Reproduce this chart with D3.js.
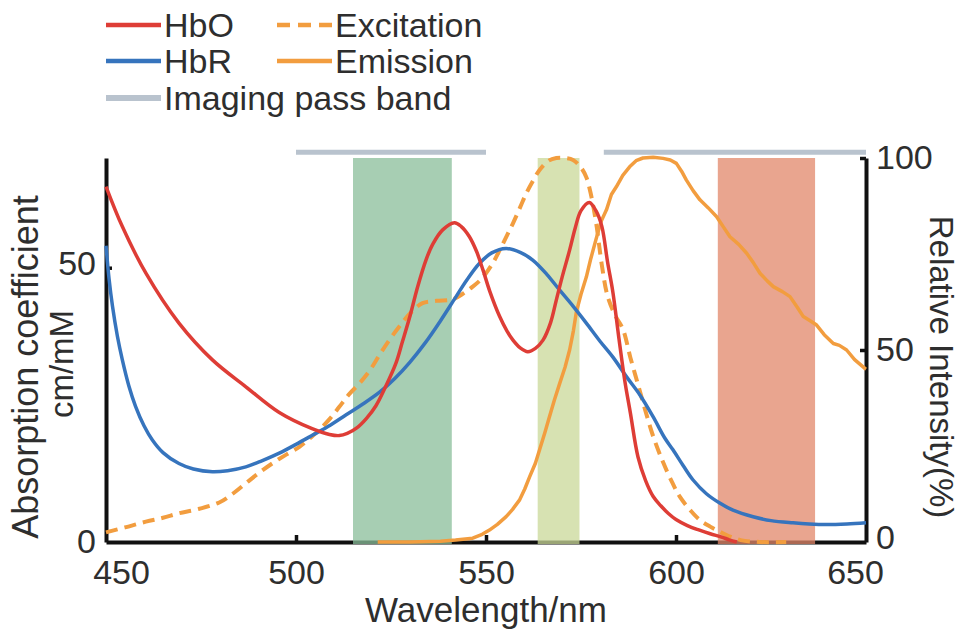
<!DOCTYPE html>
<html><head><meta charset="utf-8">
<script src="https://cdn.jsdelivr.net/npm/d3@7"></script>
<style>
html,body{margin:0;padding:0;background:#fff;}
text{font-family:"Liberation Sans",Arial,Helvetica,sans-serif;fill:#2e2e2e;}
</style></head>
<body>
<svg id="c" width="967" height="637"></svg>
<script>
// ---- data ----
const hboWl  = [450,454.3,460.5,469.2,478,486.8,495.6,504.4,508.8,511.4,513.5,516,518.5,521,523.5,526.3,528,530,532,534.2,536,538.6,541.7,543.5,545.6,547.5,549.2,551,553.6,555.5,557.1,559,561,563,565,567,568.5,570,572,573.5,575,577.2,579,580.5,582,583.4,585,586.5,588,590,592,594,596,598,600,603,606,609,612,614,616];
const hboVal = [64.8,57.5,49,39.9,33.2,28.3,23.6,20.6,19.6,19.4,19.8,20.8,22.5,24.8,28.2,32.6,36.5,41.2,46.5,51.4,54.3,56.9,58.2,57.5,55.7,53,49.6,45.7,41.1,38.5,36.8,35.4,34.7,35.3,36.8,40,44.1,48.2,53.2,57.3,60.4,61.9,60.3,57.5,51,45.5,37,29.5,23.5,15.5,11.2,8.3,6.6,5.2,4.1,3,2.2,1.5,0.9,0.4,0];

const hbrWl  = [450,450.8,451.7,453,454.3,456,457.8,460,462.2,465,469.2,473,478,482,486.8,491,495.6,500,504.4,509,513.2,517.5,522,526,530,534,538,542,545,548.3,551.5,555.3,559,562.3,566,569.4,573,576.4,580,583.4,587,590.5,594,597,599.2,602,604.5,608,611.5,615,620.3,625,630.8,635,639.6,645,650];
const hbrVal = [54,48,43,37.5,33.2,28.5,24.7,21.2,18.6,16.3,14.3,13.3,12.8,13,13.7,14.8,16.2,17.8,19.5,21.3,23.2,25.1,27.3,29.8,32.8,36.3,40.3,44.6,47.8,50.8,52.7,53.5,52.8,51.4,48.8,45.9,42.9,39.9,36.6,33.7,30.1,26.8,22.8,19,16.8,13.8,11.3,8.8,7.1,5.8,4.6,3.9,3.5,3.3,3.2,3.3,3.5];

const excWl  = [450,455,460.5,465,469.2,474,479.8,483,486.8,490,493.8,497,500.9,504,506.1,509,511.4,514,516.7,519.5,521.9,524.5,527.2,530,533.3,537,541.2,544,546.5,548.5,550,552,553.6,555.5,557.1,559,560.6,562.5,564.1,566.5,568.5,571,572.9,575,576.4,577.5,579,580.5,582,584,586,588,590,592,594,596.5,599,601,604,606.3,609,611.5,614,617,622,629];
const excVal = [2.5,3.8,5.3,6.3,7.5,8.5,10.3,12.3,15.3,17.8,20.5,22.5,24.8,27.3,29.2,32.2,35.2,38.5,41.3,44.8,48.6,52.5,56.1,59.5,62.2,62.8,63.2,64.7,66.5,68.2,70,73,76,79.8,83,87.2,90.8,94.3,96.9,99.3,100,100,99.5,97.5,95,91,83,72,64,59,55.5,48,41,34,27.5,21,15.5,11.8,8,5.7,4,2.7,1.5,0.5,0,0];

const emWl  = [521.5,530,538,542,546.5,549,550.9,553,555.3,557,558.8,560.2,561.5,563,564.1,565.5,566.7,568,569.4,570.8,572,573,573.8,575,576.4,577.5,579,580.3,581.7,583,584.3,586,587.8,589.5,591.3,594,596.6,598.5,600.1,601.5,602.7,604.5,606.3,608.5,610.7,612.5,614.2,616.5,618.6,620.5,622.1,624,625.6,628,630,632,633.5,635.5,637,639,641.4,643,644.9,647,649.7,650];
const emVal = [0,0,0.2,0.5,1,2,3.1,4.6,6.6,8.5,10.9,13.8,17,20.5,24,28.5,32.6,37,41.3,45.5,50,55,60,64.5,69,73.5,79,83.5,86.5,90.5,92.5,95.5,97.7,99.3,100,100.2,99.9,99.5,98.6,96.5,94.3,91.5,89.1,87,84.7,82,79.5,77.5,75.2,72.5,70,68,66.5,65.2,63.9,61,58.7,57.5,56.5,54,51.7,51.2,50,47.5,45.2,45];

const filterStart = [515, 563.6, 611];
const filterEnd   = [541, 574.6, 636.6];
const filterColors = ["#8abe9a", "#cad898", "#e2876a"];
const passStart = [500, 581];
const passEnd   = [550, 650];

const xTicks = [450, 500, 550, 600, 650];
const yLeftTicks = [0, 50];
const yRightTicks = [0, 50, 100];

// ---- chart ----
const svg = d3.select("#c");
const FS = 34;
const x  = d3.scaleLinear().domain([450, 650]).range([106, 866]);
const yL = d3.scaleLinear().domain([0, 70]).range([542, 158]);
const yR = d3.scaleLinear().domain([0, 100]).range([542, 158]);

const C = {red:"#de3d36", blue:"#3674bd", orange:"#f29d3f", gray:"#b9c3ce"};

function styleAxis(g){
  g.select(".domain").attr("stroke","#111").attr("stroke-width",4);
  g.selectAll(".tick line").attr("stroke","#111").attr("stroke-width",3.5);
  g.selectAll(".tick text").attr("font-size",FS).attr("fill","#2e2e2e")
    .style("font-family",'"Liberation Sans",Arial,sans-serif');
}

const gx = svg.append("g").attr("transform","translate(0,542)")
  .call(d3.axisBottom(x).tickValues(xTicks).tickSizeInner(-7).tickSizeOuter(0).tickPadding(18).tickFormat(d3.format("d")));
styleAxis(gx);
gx.selectAll(".tick").filter(d => d===450 || d===650).select("line").remove();
gx.selectAll(".tick text").attr("dx", d => d===450 ? 15 : d===650 ? -11 : 0);

const gl = svg.append("g").attr("transform","translate(106,0)")
  .call(d3.axisLeft(yL).tickValues(yLeftTicks).tickSizeInner(-6).tickSizeOuter(0).tickPadding(10));
styleAxis(gl);
gl.selectAll(".tick").filter(d => d===0).select("line").remove();
gl.selectAll(".tick text").attr("dy", d => d===50 ? "0.2em" : "0.3em");

const gr = svg.append("g").attr("transform","translate(866,0)")
  .call(d3.axisRight(yR).tickValues(yRightTicks).tickSizeInner(-6).tickSizeOuter(0).tickPadding(10));
styleAxis(gr);
gr.selectAll(".tick").filter(d => d===0).select("line").remove();
gr.selectAll(".tick text").attr("dy", d => d===0 ? "0.2em" : "0.32em");

// filter bands (semi transparent, over axes)
svg.append("g").selectAll("rect").data(filterStart).join("rect")
  .attr("x", (d,i) => x(d))
  .attr("width", (d,i) => x(filterEnd[i]) - x(d))
  .attr("y", yR(100))
  .attr("height", yR(0) - yR(100) + 2)
  .attr("fill", (d,i) => filterColors[i])
  .attr("fill-opacity", 0.75);

// imaging pass bands
svg.append("g").selectAll("line").data(passStart).join("line")
  .attr("x1", d => x(d)).attr("x2", (d,i) => x(passEnd[i]))
  .attr("y1", yR(101.5)).attr("y2", yR(101.5))
  .attr("stroke", C.gray).attr("stroke-width", 5);

function zip(a,b){ return a.map((v,i)=>[v,b[i]]); }
const lineL = d3.line().x(d=>x(d[0])).y(d=>yL(d[1])).curve(d3.curveCatmullRom.alpha(0.5));
const lineRs = d3.line().x(d=>x(d[0])).y(d=>yR(d[1])).curve(d3.curveCatmullRom.alpha(0.5));
const lineRl = d3.line().x(d=>x(d[0])).y(d=>yR(d[1])).curve(d3.curveLinear);

svg.append("path").attr("d", lineRl(zip(emWl, emVal)))
  .attr("fill","none").attr("stroke",C.orange).attr("stroke-width",3.5).attr("stroke-linejoin","round");
svg.append("path").attr("d", lineRs(zip(excWl, excVal)))
  .attr("fill","none").attr("stroke",C.orange).attr("stroke-width",4).attr("stroke-dasharray","12,7");
svg.append("path").attr("d", lineL(zip(hbrWl, hbrVal)))
  .attr("fill","none").attr("stroke",C.blue).attr("stroke-width",3.5);
svg.append("path").attr("d", lineL(zip(hboWl, hboVal)))
  .attr("fill","none").attr("stroke",C.red).attr("stroke-width",3.5);

// axis titles
svg.append("text").attr("x", 486).attr("y", 622).attr("text-anchor","middle")
  .attr("font-size", FS+1).text("Wavelength/nm");
svg.append("text").attr("transform","translate(38,367) rotate(-90)").attr("text-anchor","middle")
  .attr("font-size", FS+2).text("Absorption coefficient");
svg.append("text").attr("transform","translate(73,364) rotate(-90)").attr("text-anchor","middle")
  .attr("font-size", FS-1).text("cm/mM");
svg.append("text").attr("transform","translate(930,367) rotate(90)").attr("text-anchor","middle")
  .attr("font-size", FS-1).text("Relative Intensity(%)");

// legend
const legendNames = ["HbO","HbR","Imaging pass band","Excitation","Emission"];
const legendColors = [C.red, C.blue, C.gray, C.orange, C.orange];
const legendDash = [null, null, null, "13,8", null];
const legendPos = [[106,25],[106,61],[106,98],[277,25],[277,61]];
const lg = svg.append("g");
legendNames.forEach((n,i)=>{
  const [lx,ly] = legendPos[i];
  lg.append("line").attr("x1",lx).attr("x2",lx+55).attr("y1",ly).attr("y2",ly)
    .attr("stroke",legendColors[i]).attr("stroke-width",i===2?6:4.5)
    .attr("stroke-dasharray",legendDash[i]);
  lg.append("text").attr("x",lx+58).attr("y",ly+11.5).attr("font-size",FS).text(n);
});
</script>
</body></html>
